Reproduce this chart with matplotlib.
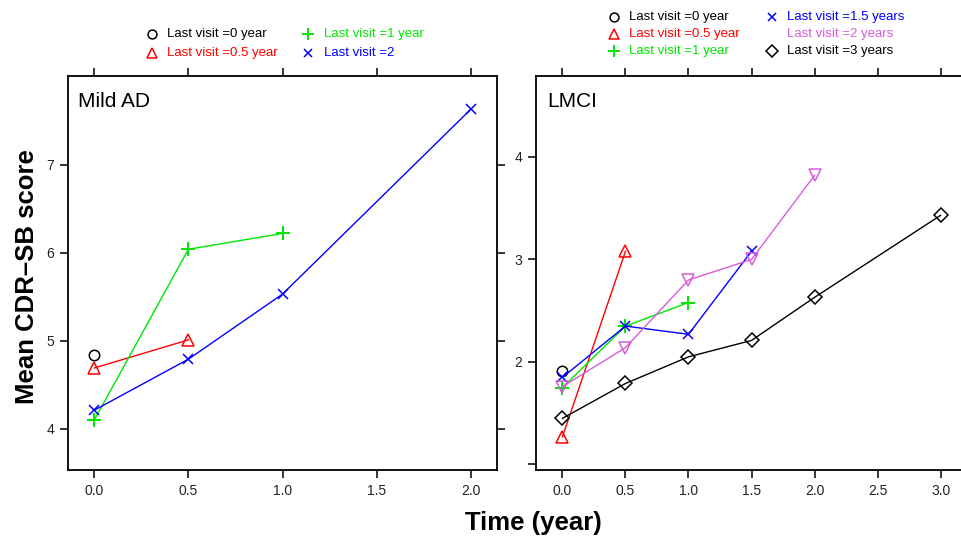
import matplotlib
matplotlib.use("Agg")
import matplotlib.pyplot as plt
from matplotlib.lines import Line2D

plt.rcParams['font.family'] = ['Liberation Sans', 'DejaVu Sans']

# ---------------- data ----------------
# Mild AD panel
ad_t0 = [0.0]
ad_y0 = [4.84]
ad_t05 = [0.0, 0.5]
ad_y05 = [4.69, 5.01]
ad_t1 = [0.0, 0.5, 1.0]
ad_y1 = [4.10, 6.04, 6.22]
ad_t2 = [0.0, 0.5, 1.0, 2.0]
ad_y2 = [4.21, 4.79, 5.53, 7.63]

# LMCI panel
mci_t0 = [0.0]
mci_y0 = [1.91]
mci_t05 = [0.0, 0.5]
mci_y05 = [1.27, 3.08]
mci_t1 = [0.0, 0.5, 1.0]
mci_y1 = [1.75, 2.35, 2.58]
mci_t15 = [0.0, 0.5, 1.0, 1.5]
mci_y15 = [1.85, 2.35, 2.27, 3.08]
mci_t2 = [0.0, 0.5, 1.0, 1.5, 2.0]
mci_y2 = [1.76, 2.14, 2.80, 3.00, 3.82]
mci_t3 = [0.0, 0.5, 1.0, 1.5, 2.0, 3.0]
mci_y3 = [1.45, 1.79, 2.05, 2.21, 2.63, 3.43]

ad_labels = ["Last visit =0 year", "Last visit =0.5 year", "Last visit =1 year", "Last visit =2"]
mci_labels = ["Last visit =0 year", "Last visit =0.5 year", "Last visit =1 year",
              "Last visit =1.5 years", "Last visit =2 years", "Last visit =3 years"]

BLACK = "#000000"
RED = "#FF0000"
GREEN = "#00E600"
BLUE = "#0000FF"
PINK = "#D95BD9"

# marker specs
MK = {
    'circle': dict(marker='o', ms=7.5, mfc='none', mew=1.1),
    'tri': dict(marker='^', ms=9, mfc='none', mew=1.1),
    'plus': dict(marker='+', ms=10, mew=1.4),
    'x': dict(marker='x', ms=7, mew=1.1),
    'vtri': dict(marker='v', ms=9, mfc='none', mew=1.1),
    'diam': dict(marker='D', ms=7, mfc='none', mew=1.1),
}

fig = plt.figure(figsize=(9.61, 5.42), dpi=100)
W, H = 961.0, 542.0

def axpos(x0, x1, ytop, ybot):
    return [x0 / W, 1 - ybot / H, (x1 - x0) / W, (ybot - ytop) / H]

ax1 = fig.add_axes(axpos(68, 497, 76, 470))
ax2 = fig.add_axes(axpos(536, 967, 76, 470))

def series(ax, t, y, color, mk):
    spec = dict(MK[mk])
    ax.plot(t, y, color=color, lw=1.0, mec=color, **spec, clip_on=False)

series(ax1, ad_t0, ad_y0, BLACK, 'circle')
series(ax1, ad_t05, ad_y05, RED, 'tri')
series(ax1, ad_t1, ad_y1, GREEN, 'plus')
series(ax1, ad_t2, ad_y2, BLUE, 'x')

series(ax2, mci_t0, mci_y0, BLACK, 'circle')
series(ax2, mci_t05, mci_y05, RED, 'tri')
series(ax2, mci_t1, mci_y1, GREEN, 'plus')
series(ax2, mci_t15, mci_y15, BLUE, 'x')
series(ax2, mci_t2, mci_y2, PINK, 'vtri')
series(ax2, mci_t3, mci_y3, BLACK, 'diam')

ax1.set_xlim(-0.14, 2.14)
ax1.set_ylim(3.53, 8.01)
ax2.set_xlim(-0.21, 3.21)
ax2.set_ylim(0.946, 4.79)

ax1.set_xticks([0.0, 0.5, 1.0, 1.5, 2.0])
ax1.set_xticklabels(["0.0", "0.5", "1.0", "1.5", "2.0"])
ax1.set_yticks([4, 5, 6, 7])
ax1.set_yticklabels(["4", "5", "6", "7"])
ax2.set_xticks([0.0, 0.5, 1.0, 1.5, 2.0, 2.5, 3.0])
ax2.set_xticklabels(["0.0", "0.5", "1.0", "1.5", "2.0", "2.5", "3.0"])
ax2.set_yticks([1, 2, 3, 4])
ax2.set_yticklabels(["", "2", "3", "4"])

for ax in (ax1, ax2):
    for s in ax.spines.values():
        s.set_linewidth(1.3)
    ax.tick_params(direction='out', length=6, width=1.1, labelsize=10,
                   labelcolor='#222222', pad=4)
    ax.tick_params(axis='x', top=True, labeltop=False)
ax1.tick_params(axis='y', right=True, labelright=False)
ax2.tick_params(axis='y', right=False)

ax1.text(0.023, 0.935, "Mild AD", transform=ax1.transAxes, fontsize=15, va='center', ha='left')
ax2.text(0.025, 0.935, "LMCI", transform=ax2.transAxes, fontsize=15, va='center', ha='left')

fig.text(27 / W, 1 - 277 / H, "Mean CDR\u2013SB score", rotation=90, fontsize=18.5,
         fontweight='bold', ha='center', va='center')
fig.text(533 / W, 1 - 523 / H, "Time (year)", fontsize=18.5, fontweight='bold',
         ha='center', va='center')

# ---------------- legends ----------------
def legend_entry(xm, xt, y, label, color, mk, show_marker=True):
    if show_marker:
        spec = dict(MK[mk])
        spec['ms'] = spec['ms'] * 0.85
        fig.add_artist(Line2D([xm / W], [1 - y / H], transform=fig.transFigure,
                              color=color, mec=color, ls='none', **spec))
    fig.text(xt / W, 1 - y / H, label, color=color, fontsize=9.5, ha='left', va='center')

legend_entry(152, 167, 34, ad_labels[0], BLACK, 'circle')
legend_entry(152, 167, 53, ad_labels[1], RED, 'tri')
legend_entry(308, 324, 34, ad_labels[2], GREEN, 'plus')
legend_entry(308, 324, 53, ad_labels[3], BLUE, 'x')

legend_entry(614, 629, 17, mci_labels[0], BLACK, 'circle')
legend_entry(614, 629, 34, mci_labels[1], RED, 'tri')
legend_entry(614, 629, 51, mci_labels[2], GREEN, 'plus')
legend_entry(772, 787, 17, mci_labels[3], BLUE, 'x')
legend_entry(772, 787, 34, mci_labels[4], PINK, 'vtri', show_marker=False)
legend_entry(772, 787, 51, mci_labels[5], BLACK, 'diam')

fig.savefig("out.png", dpi=100)
